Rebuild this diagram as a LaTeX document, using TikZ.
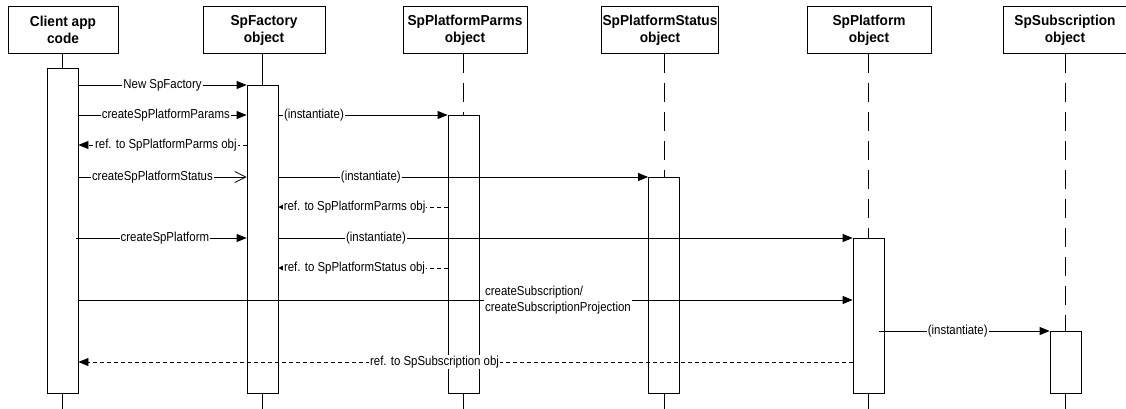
\documentclass[tikz,border=0pt]{standalone}
\usepackage{fontspec}
\setmainfont{Liberation Sans}
\newfontfamily\lblfont[FakeStretch=0.88]{Liberation Sans}
\newfontfamily\hdrfont[FakeStretch=0.95]{Liberation Sans}
\usetikzlibrary{arrows.meta,calc}
\begin{document}
\begin{tikzpicture}[x=1pt,y=-1pt,
  hdr/.style={draw,line width=0.9pt,minimum height=47pt,inner sep=1pt,align=center,
    font=\hdrfont\fontsize{14.4}{17}\selectfont\bfseries},
  act/.style={draw,line width=0.8pt,fill=white,minimum width=31pt,inner sep=0pt,anchor=north},
  life/.style={line width=0.8pt},
  dlife/.style={line width=0.8pt,dash pattern=on 19pt off 10pt},
  msg/.style={line width=0.8pt,-{Triangle[length=10pt,width=8pt]}},
  omsg/.style={line width=0.8pt,-{Straight Barb[length=11pt,width=11pt]}},
  ret/.style={line width=0.8pt,dash pattern=on 4pt off 3pt,-{Triangle[length=10pt,width=8pt]}},
  sret/.style={line width=0.8pt,dash pattern=on 4pt off 3pt,-{Triangle[length=5pt,width=5pt]}},
  lbl/.style={fill=white,inner sep=1pt,font=\lblfont\fontsize{13}{15}\selectfont}
]
\useasboundingbox (0,0) rectangle (1126,409);

% headers
\node[hdr,minimum width=110pt] (client) at (63,30) {Client app\\code};
\node[hdr,minimum width=122pt] (fact) at (264,30) {SpFactory\\object};
\node[hdr,minimum width=124pt] (parms) at (465,30) {SpPlatformParms\\object};
\node[hdr,minimum width=115pt] (stat) at (660,30) {SpPlatformStatus\\object};
\node[hdr,minimum width=124pt] (plat) at (869,30) {SpPlatform\\object};
\node[hdr,minimum width=123pt] (sub) at (1065,30) {SpSubscription\\object};

% activations
\node[act,minimum height=325pt] (ca) at (62.5,68) {};
\node[act,minimum height=308pt] (fa) at (262.5,85) {};
\node[act,minimum height=278pt] (pa) at (463.5,115) {};
\node[act,minimum height=216pt] (sa) at (664,177) {};
\node[act,minimum height=155pt] (la) at (868.5,238) {};
\node[act,minimum height=62pt] (ua) at (1065.5,331) {};

% lifelines
\coordinate (bot) at (0,409);
\draw[life] (client.south -| ca.north) -- (ca.north);
\draw[life] (fact.south -| fa.north) -- (fa.north);
\draw[dlife] (parms.south -| pa.north) -- (pa.north);
\draw[dlife] (stat.south -| sa.north) -- (sa.north);
\draw[dlife] (plat.south -| la.north) -- (la.north);
\draw[dlife] (sub.south -| ua.north) -- (ua.north);
\foreach \a in {ca,fa,pa,sa,la,ua} \draw[life] (\a.south) -- (\a.south |- bot);

% rows
\coordinate (r1) at (0,85);
\coordinate (r2) at (0,115);
\coordinate (r3) at (0,145);
\coordinate (r4) at (0,177);
\coordinate (r5) at (0,207);
\coordinate (r6) at (0,238);
\coordinate (r7) at (0,268);
\coordinate (r8) at (0,300);
\coordinate (r9) at (0,331);
\coordinate (r10) at (0,362);

\draw[msg] (ca.east |- r1) -- node[lbl,pos=0.5] {New SpFactory} (fa.west |- r1);
\draw[msg] (ca.east |- r2) -- node[lbl,pos=0.52] {createSpPlatformParams} (fa.west |- r2);
\draw[msg] (fa.east |- r2) -- node[lbl,pos=0.21] {(instantiate)} (pa.west |- r2);
\draw[ret] (fa.west |- r3) -- node[lbl,pos=0.48] {ref. to SpPlatformParms obj} (ca.east |- r3);
\draw[omsg] (ca.east |- r4) -- node[lbl,pos=0.44] {createSpPlatformStatus} (fa.west |- r4);
\draw[msg] (fa.east |- r4) -- node[lbl,pos=0.25] {(instantiate)} (sa.west |- r4);
\draw[sret] (pa.west |- r5) -- node[lbl,pos=0.55] {ref. to SpPlatformParms obj} (fa.east |- r5);
\draw[msg] ($(ca.east |- r6)+(-2,0)$) -- node[lbl,pos=0.52] {createSpPlatform} (fa.west |- r6);
\draw[msg] (fa.east |- r6) -- node[lbl,pos=0.17] {(instantiate)} (la.west |- r6);
\draw[sret] (pa.west |- r7) -- node[lbl,pos=0.55] {ref. to SpPlatformStatus obj} (fa.east |- r7);
\draw[msg] (ca.east |- r8) -- (la.west |- r8);
\node[lbl,anchor=west,align=left,font=\lblfont\fontsize{13}{16.5}\selectfont] (cs) at (484,300) {createSubscription/\\createSubscriptionProjection};
\draw[msg] ($(la.east |- r9)+(-5,0)$) -- node[lbl,pos=0.46] {(instantiate)} (ua.west |- r9);
\draw[ret] (la.west |- r10) -- node[lbl,pos=0.54] {ref. to SpSubscription obj} (ca.east |- r10);
\end{tikzpicture}
\end{document}
